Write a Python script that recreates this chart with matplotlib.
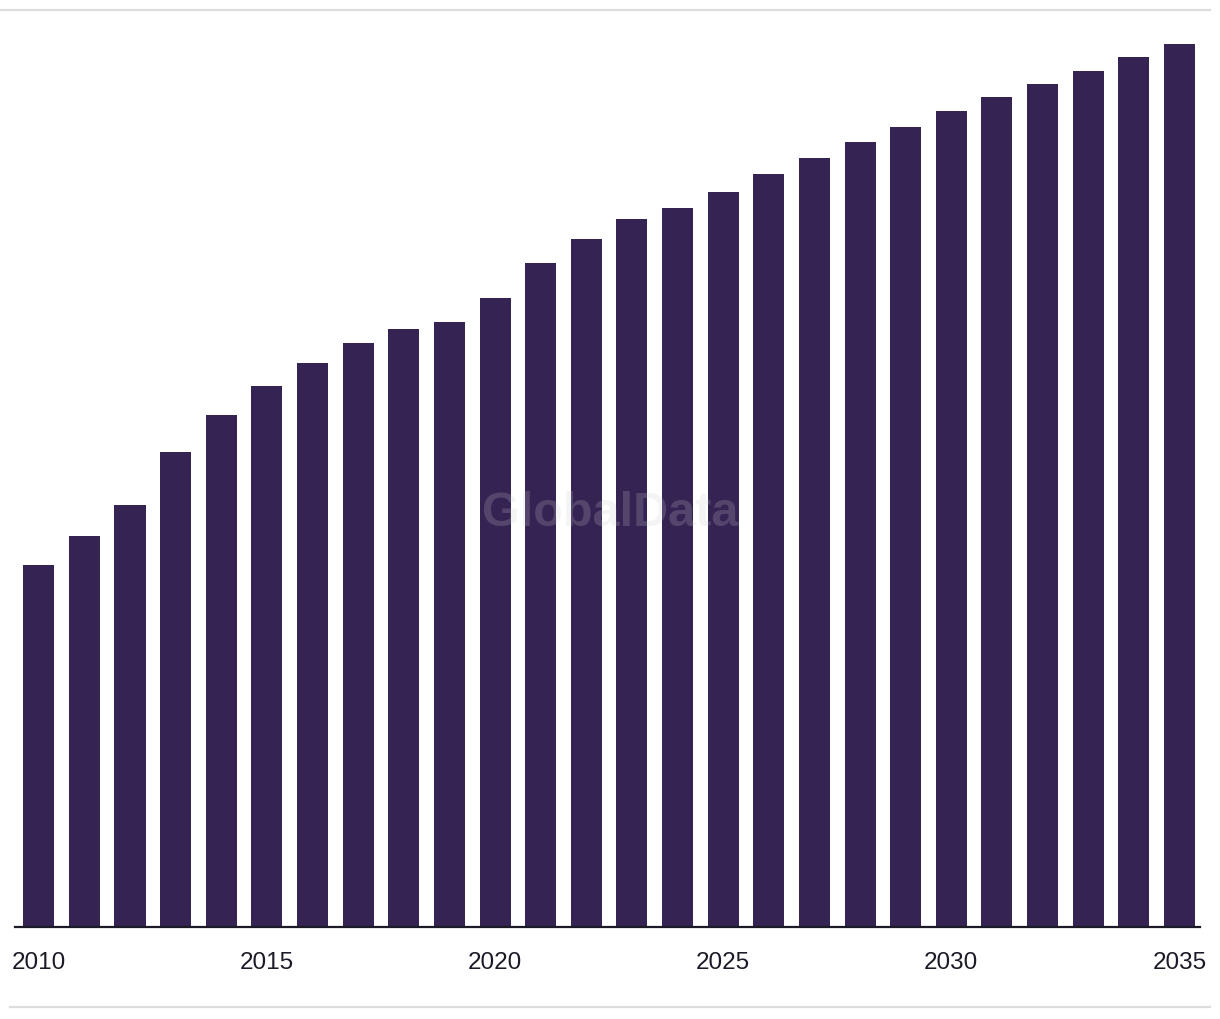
import matplotlib
matplotlib.use("Agg")
import matplotlib.pyplot as plt
from matplotlib.lines import Line2D

# values (relative units, no y axis shown)
years = list(range(2010, 2036))
values = [362, 391, 422, 475, 512, 541, 564, 584, 598, 605,
          629, 664, 688, 708, 719, 735, 753, 769, 785, 800,
          816, 830, 843, 856, 870, 883]
tick_years = [2010, 2015, 2020, 2025, 2030, 2035]

bar_color = "#352453"

fig = plt.figure(figsize=(12.2, 10.2), dpi=100)
W, H = 1220, 1020
ax = fig.add_axes([15 / W, (H - 928) / H, 1185 / W, (928 - 45) / H])

xs = list(range(len(years)))
ax.bar(xs, values, width=0.68, color=bar_color, zorder=2)

ax.set_xlim(-0.52, len(years) - 1 + 0.45)
ax.set_ylim(0, max(values))

ax.set_xticks([years.index(y) for y in tick_years])
ax.set_xticklabels([str(y) for y in tick_years], fontsize=17.5,
                   family="Liberation Sans", color="#1b1a26")
ax.tick_params(axis="x", length=0, pad=17)
ax.set_yticks([])

for s in ["top", "right", "left"]:
    ax.spines[s].set_visible(False)
ax.spines["bottom"].set_color("#1b1a26")
ax.spines["bottom"].set_linewidth(1.6)
ax.spines["bottom"].set_zorder(3)

# thin grey rules above and below the chart
fig.add_artist(Line2D([0 / W, 1210 / W], [(H - 11) / H] * 2,
                      color="#dddddd", lw=1.6, transform=fig.transFigure))
fig.add_artist(Line2D([10 / W, 1210 / W], [(H - 1008) / H] * 2,
                      color="#dddddd", lw=1.6, transform=fig.transFigure))

# watermark
fig.text(610 / W, (H - 514) / H, "GlobalData", fontsize=35, fontweight="bold",
         family="Liberation Sans", color="#cccccc", alpha=0.2,
         ha="center", va="center", zorder=10)

fig.savefig("out.png", dpi=100)
